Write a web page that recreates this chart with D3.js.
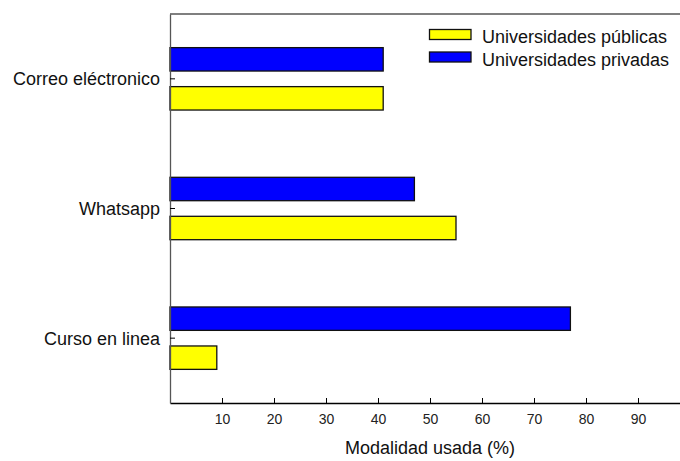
<!DOCTYPE html>
<html>
<head>
<meta charset="utf-8">
<script src="https://cdn.jsdelivr.net/npm/d3@7"></script>
<style>
  body { margin: 0; background: #fff; }
  svg { display: block; font-family: "Liberation Sans", Arial, sans-serif; }
</style>
</head>
<body>
<svg width="680" height="461"></svg>
<script>
const categories = ["Correo eléctronico", "Whatsapp", "Curso en linea"];
const series = ["Universidades privadas", "Universidades públicas"];
const privadas = [41, 47, 77];
const publicas = [41, 55, 9];
const xTicks = [10, 20, 30, 40, 50, 60, 70, 80, 90];

const colorMap = {
    "Universidades públicas": "#ffff00",
    "Universidades privadas": "#0000ff"
};

const svg = d3.select("svg");
const margin = {top: 14, left: 170};
const plotRight = 690;
const plotBottom = 403;

const scaleX = d3.scaleLinear()
    .domain([0, 100])
    .range([margin.left, plotRight]);

const scaleY = d3.scaleBand()
    .domain(categories)
    .range([margin.top, plotBottom])
    .padding(0);

const half = 31.2;
const scaleYInner = d3.scaleBand()
    .domain(series)
    .range([scaleY.bandwidth() / 2 - half, scaleY.bandwidth() / 2 + half])
    .paddingInner(0.4)
    .paddingOuter(0);

const valueOf = {
    "Universidades privadas": privadas,
    "Universidades públicas": publicas
};

// frame top
svg.append("line")
    .attr("x1", margin.left).attr("x2", plotRight)
    .attr("y1", margin.top).attr("y2", margin.top)
    .attr("stroke", "#555").attr("stroke-width", 1.3);

// bars
categories.forEach((c, i) => {
    series.forEach(s => {
        const v = valueOf[s][i];
        svg.append("rect")
            .attr("x", scaleX(0))
            .attr("y", scaleY(c) + scaleYInner(s))
            .attr("width", scaleX(v) - scaleX(0))
            .attr("height", scaleYInner.bandwidth())
            .attr("fill", colorMap[s])
            .attr("stroke", "#111")
            .attr("stroke-width", 1.3);
    });
});

// bottom axis, ticks inward
const xAxis = svg.append("g")
    .attr("transform", `translate(0, ${plotBottom})`)
    .call(d3.axisBottom(scaleX).tickValues(xTicks).tickSize(-5).tickPadding(11).tickSizeOuter(0));
xAxis.select(".domain").attr("stroke", "#000").attr("stroke-width", 1.3);
xAxis.selectAll(".tick line").attr("stroke", "#000");
xAxis.selectAll("text")
    .attr("font-size", 14)
    .attr("fill", "#222")
    .attr("font-family", "Liberation Sans, Arial, sans-serif");

// left axis, ticks inward
const yAxis = svg.append("g")
    .attr("transform", `translate(${margin.left}, 0)`)
    .call(d3.axisLeft(scaleY).tickSize(-5).tickPadding(10).tickSizeOuter(0));
yAxis.select(".domain").attr("stroke", "#555").attr("stroke-width", 1.3);
yAxis.selectAll(".tick line").attr("stroke", "#000");
yAxis.selectAll("text")
    .attr("font-size", 18)
    .attr("fill", "#111")
    .attr("dy", "0.36em")
    .attr("font-family", "Liberation Sans, Arial, sans-serif");

// axis title
svg.append("text")
    .attr("x", (margin.left + plotRight) / 2)
    .attr("y", 454)
    .attr("text-anchor", "middle")
    .attr("font-size", 18)
    .attr("fill", "#111")
    .text("Modalidad usada (%)");

// legend
const legendItems = ["Universidades públicas", "Universidades privadas"];
legendItems.forEach((s, i) => {
    const y = 29.5 + i * 22.5;
    svg.append("rect")
        .attr("x", 429.5)
        .attr("y", y)
        .attr("width", 41.5)
        .attr("height", 10)
        .attr("fill", colorMap[s])
        .attr("stroke", "#111")
        .attr("stroke-width", 1.3);
    svg.append("text")
        .attr("x", 482)
        .attr("y", y + 13.5)
        .attr("font-size", 18)
        .attr("fill", "#111")
        .text(s);
});
</script>
</body>
</html>
